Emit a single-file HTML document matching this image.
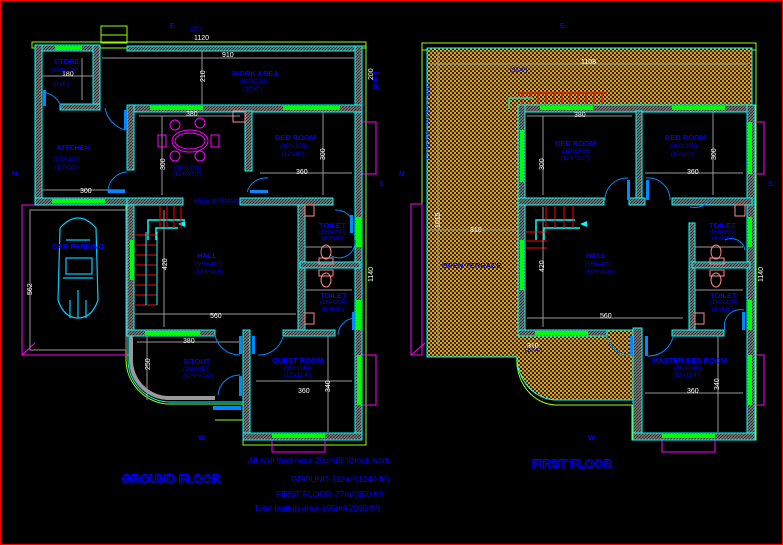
<!DOCTYPE html>
<html><head><meta charset="utf-8"><style>
html,body{margin:0;padding:0;background:#000;width:783px;height:545px;overflow:hidden}
svg{display:block}
text{font-family:"Liberation Sans",sans-serif}
.l{fill:#0000ff;font-size:7.5px;font-weight:bold}
.s{fill:#0000ff;font-size:6px}
.d{fill:#fff;font-size:7px}
.dim{stroke:#999;stroke-width:1;fill:none}
.w{fill:url(#h);stroke:#00ffff;stroke-width:1}
.g{fill:#00ff00}
</style></head><body>
<svg width="783" height="545" viewBox="0 0 783 545" xmlns="http://www.w3.org/2000/svg">
<defs>
<pattern id="h" width="3" height="3" patternUnits="userSpaceOnUse"><rect width="3" height="3" fill="#777"/><path d="M0,3 L3,0" stroke="#333" stroke-width="1"/></pattern>
<pattern id="o" width="4" height="4" patternUnits="userSpaceOnUse"><rect width="4" height="4" fill="#e8a000"/><rect x="0" y="0" width="2" height="2" fill="#222"/><rect x="2" y="2" width="2" height="2" fill="#333"/></pattern>
</defs>
<rect x="0.5" y="0.5" width="782" height="544" fill="none" stroke="#f00"/>

<!-- GROUND FLOOR -->
<rect x="32" y="42" width="334" height="6" fill="none" stroke="#9f0"/>
<rect x="101" y="26" width="26" height="17" fill="none" stroke="#9f0"/>
<line x1="101" y1="35" x2="127" y2="35" stroke="#9f0"/>
<path d="M362,46 H366 V445 H243 V420 H215" fill="none" stroke="#9f0"/>
<path d="M126,205 V360 M126,360 A45,45 0 0 0 167,404 H243" fill="none" stroke="#9f0"/>
<rect x="22" y="205" width="108" height="150" fill="none" stroke="#f0f"/>
<rect x="30" y="210" width="96" height="140" fill="none" stroke="#999"/>
<line x1="22" y1="355" x2="35" y2="343" stroke="#f0f"/>
<rect x="362" y="122" width="14" height="52" fill="none" stroke="#f0f"/>
<rect x="362" y="355" width="14" height="50" fill="none" stroke="#f0f"/>
<rect x="272" y="440" width="53" height="12" fill="none" stroke="#f0f"/>

<g id="gf">
<rect class="w" x="35" y="45" width="65" height="6"/>
<rect class="g" x="55" y="46" width="27" height="4"/>
<rect class="w" x="35" y="45" width="7" height="160"/>
<rect class="w" x="93" y="45" width="7" height="65"/>
<rect class="w" x="60" y="104" width="40" height="6"/>
<rect class="w" x="127" y="46" width="235" height="5"/>
<rect class="w" x="355" y="46" width="7" height="394"/>
<rect class="w" x="127" y="105" width="235" height="7"/>
<rect class="g" x="150" y="106" width="53" height="4"/><rect class="g" x="283" y="106" width="57" height="4"/>
<rect class="w" x="127" y="105" width="7" height="65"/>
<rect class="w" x="245" y="111" width="7" height="60"/>
<rect class="w" x="35" y="198" width="95" height="7"/>
<rect class="g" x="52" y="199" width="53" height="4"/>
<rect class="w" x="127" y="198" width="56" height="7"/>
<rect class="w" x="240" y="198" width="93" height="7"/>
<rect class="w" x="127" y="205" width="7" height="125"/>
<rect class="g" x="130" y="240" width="4" height="40"/>
<rect class="w" x="298" y="205" width="7" height="125"/>
<rect class="w" x="300" y="262" width="60" height="6"/>
<rect class="g" x="356" y="217" width="5" height="30"/><rect class="g" x="356" y="300" width="5" height="30"/>
<rect class="w" x="127" y="330" width="88" height="6"/>
<rect class="g" x="145" y="331" width="55" height="4"/>
<rect class="w" x="283" y="330" width="52" height="6"/>
<rect class="w" x="243" y="330" width="7" height="110"/>
<rect class="w" x="243" y="433" width="119" height="7"/>
<rect class="g" x="272" y="434" width="53" height="4"/>
<rect class="g" x="357" y="355" width="4" height="50"/>
<path d="M148,240 V220 H185 M156,240 V228 H178" fill="none" stroke="#0ff" stroke-width="1.5"/>
<path d="M178,224 l7,-3 v6z" fill="#0ff"/>
<g stroke="#f00" stroke-width="1"><line x1="160" y1="206" x2="160" y2="228"/><line x1="167" y1="206" x2="167" y2="228"/><line x1="174" y1="206" x2="174" y2="228"/><line x1="181" y1="206" x2="181" y2="228"/>
<line x1="134" y1="235" x2="157" y2="235"/><line x1="134" y1="245" x2="157" y2="245"/><line x1="134" y1="255" x2="157" y2="255"/><line x1="134" y1="265" x2="157" y2="265"/><line x1="134" y1="275" x2="157" y2="275"/><line x1="134" y1="285" x2="157" y2="285"/><line x1="134" y1="295" x2="157" y2="295"/><line x1="134" y1="305" x2="157" y2="305"/></g>
<line x1="146" y1="232" x2="146" y2="305" stroke="#0ff"/><line x1="157" y1="232" x2="157" y2="305" stroke="#0ff"/>
<path class="dim" d="M139,116 H240 M162,116 V195 M260,173 H352 M323,112 V195 M42,190 H125 M42,76 H93 M82,58 V100 M102,58 H355 M202,51 V105 M134,314 H296 M164,210 V327 M137,342 H240 M147,336 V400 M256,381 H352 M328,336 V432 M305,247 H352 M305,290 H352 M30,212 V347"/>
<text class="d" x="186" y="116">380</text><text class="d" x="296" y="174">360</text><text class="d" x="80" y="193">300</text>
<text class="d" x="62" y="76">180</text><text class="d" x="222" y="57">910</text><text class="d" x="194" y="40">1120</text>
<text class="d" x="210" y="318">560</text><text class="d" x="183" y="343">380</text><text class="d" x="298" y="393">360</text>
<text class="d" x="165" y="170" transform="rotate(-90 165 170)">300</text>
<text class="d" x="325" y="160" transform="rotate(-90 325 160)">300</text>
<text class="d" x="205" y="82" transform="rotate(-90 205 82)">210</text>
<text class="d" x="167" y="270" transform="rotate(-90 167 270)">420</text>
<text class="d" x="150" y="370" transform="rotate(-90 150 370)">250</text>
<text class="d" x="330" y="392" transform="rotate(-90 330 392)">340</text>
<text class="d" x="32" y="295" transform="rotate(-90 32 295)">562</text>
<text class="d" x="373" y="282" transform="rotate(-90 373 282)">1140</text>
<text class="d" x="373" y="80" transform="rotate(-90 373 80)">200</text>
<path d="M131,336 V360 A38,38 0 0 0 170,398 H215" fill="none" stroke="#999" stroke-width="4"/>
<path d="M128,336 V360 A42,42 0 0 0 170,402 H243" fill="none" stroke="#0ff"/>
<g fill="none" stroke="#08f"><path d="M42,92 A22,22 0 0 1 62,110"/><path d="M105,108 A28,28 0 0 0 125,130"/><path d="M108,192 A20,20 0 0 1 127,172"/><path d="M247,192 A20,20 0 0 1 268,178"/><path d="M335,210 A18,18 0 0 1 353,222"/><path d="M355,240 A16,16 0 0 1 330,255"/><path d="M215,335 A25,25 0 0 0 240,355"/><path d="M283,337 A25,25 0 0 1 258,355"/><path d="M218,395 A22,22 0 0 1 240,375"/><path d="M338,335 A18,18 0 0 1 355,318"/></g>
<g fill="#08f"><rect x="43" y="90" width="3" height="16"/><rect x="124" y="110" width="3" height="20"/><rect x="108" y="190" width="17" height="3"/><rect x="250" y="190" width="18" height="3"/><rect x="239" y="336" width="3" height="18"/><rect x="252" y="336" width="3" height="18"/><rect x="239" y="376" width="3" height="20"/><rect x="352" y="312" width="3" height="18"/><rect x="350" y="215" width="3" height="18"/><rect x="213" y="406" width="28" height="4"/></g>
<g fill="none" stroke="#f88"><rect x="305" y="205" width="9" height="11"/><rect x="233" y="111" width="12" height="11"/><ellipse cx="326" cy="252" rx="5" ry="7"/><rect x="319" y="258" width="14" height="6"/><ellipse cx="326" cy="280" rx="5" ry="7"/><rect x="319" y="270" width="14" height="6"/><rect x="305" y="313" width="9" height="11"/></g>
<g fill="none" stroke="#f0f"><ellipse cx="190" cy="141" rx="18" ry="11"/><ellipse cx="190" cy="141" rx="15" ry="8"/><rect x="158" y="135" width="8" height="12"/><rect x="211" y="135" width="8" height="12"/><circle cx="175" cy="125" r="5"/><circle cx="200" cy="123" r="5"/><circle cx="175" cy="156" r="5"/><circle cx="200" cy="156" r="5"/></g>
</g>
<g fill="none" stroke="#0cf" stroke-width="1.2">
<path d="M60,228 Q78,208 96,228 L98,300 Q92,318 78,318 Q64,318 58,300 Z"/>
<rect x="66" y="258" width="26" height="16"/><path d="M63,278 H93 M66,240 H90 M70,300 V318 M86,300 V318 M78,290 V318"/>
</g>
<text class="l" x="54" y="64">STORE</text><text class="s" x="51" y="72">(180x180)</text><text class="s" x="53" y="86">(6'x6')</text>
<text class="l" x="57" y="150">KITCHEN</text><text class="s" x="53" y="161">(300x300)</text><text class="s" x="55" y="169">(10'x10')</text>
<text class="l" x="232" y="76">WORK AREA</text><text class="s" x="240" y="83">(910x210)</text><text class="s" x="243" y="91">(30'x7')</text>
<text class="l" x="275" y="140">BED ROOM</text><text class="s" x="280" y="148">(360x300)</text><text class="s" x="282" y="156">(12'x10')</text>
<text class="s" x="174" y="170">(380x300)</text><text class="s" x="173" y="176">(12'6"x10')</text>
<text class="s" x="193" y="203">ARCH OPENING</text>
<text class="l" x="52" y="249">CAR PARKING</text>
<text class="l" x="197" y="258">HALL</text><text class="s" x="195" y="266">(560x420)</text><text class="s" x="195" y="274">(18'6"x14')</text>
<text class="l" x="319" y="228">TOILET</text><text class="s" x="319" y="234">(180x200)</text><text class="s" x="322" y="240">(6'x6'6")</text>
<text class="l" x="320" y="298">TOILET</text><text class="s" x="320" y="304">(180x200)</text><text class="s" x="322" y="311">(6'x6'6")</text>
<text class="l" x="183" y="364">SITOUT</text><text class="s" x="183" y="371">(380x250)</text><text class="s" x="183" y="378">(12'6"x7'4")</text>
<text class="l" x="272" y="363">GUEST ROOM</text><text class="s" x="284" y="370">(360x340)</text><text class="s" x="284" y="377">(12'x11'4")</text>
<text class="l" x="170" y="28">E</text><text class="s" x="190" y="31">(37')</text><text class="l" x="12" y="176">N</text><text class="l" x="379" y="186">S</text><text class="l" x="198" y="440">W</text>
<text class="l" x="378" y="90" transform="rotate(-90 378 90)">(6'8")</text>
<text x="122" y="483" style="fill:none;stroke:#00f;stroke-width:0.9;font-size:12px;font-weight:bold">GROUND FLOOR</text>
<text x="248" y="463" style="fill:#00f;font-size:8.5px">All wall thickness 20cm(8")Block work.</text>
<text x="291" y="482" style="fill:#00f;font-size:8.5px">GROUND-112m²(1240 ft²)</text>
<text x="276" y="497" style="fill:#00f;font-size:8.5px">FIRST FLOOR-77m²(850 ft²)</text>
<text x="254" y="511" style="fill:#00f;font-size:8.5px">Total builtup area-195m²(2090 ft²)</text>

<!-- FIRST FLOOR -->
<rect x="422" y="43" width="334" height="7" fill="none" stroke="#9f0"/>
<path d="M422,43 V207 M756,43 V440 H632 V405" fill="none" stroke="#9f0"/>
<path d="M422,207 V352 M517,355 A40,45 0 0 0 557,405 H632" fill="none" stroke="#9f0"/>
<path d="M427,48 H752 V108 H518 V330 H635 V400 H557 A40,43 0 0 1 517,357 H427 Z" fill="url(#o)" stroke="#0ff"/>
<rect x="411" y="204" width="11" height="151" fill="none" stroke="#f0f"/>
<line x1="411" y1="355" x2="425" y2="343" stroke="#f0f"/>
<rect x="752" y="122" width="12" height="52" fill="none" stroke="#f0f"/>
<rect x="752" y="355" width="12" height="50" fill="none" stroke="#f0f"/>
<rect x="662" y="440" width="53" height="12" fill="none" stroke="#f0f"/>
<path class="dim" d="M438,52 V345 M430,64 H748 M428,230 H516 M753,108 V432" />
<text class="d" x="581" y="64">1108</text><text class="d" x="470" y="232">310</text><text class="d" x="527" y="348">310</text>
<text class="d" x="440" y="228" transform="rotate(-90 440 228)">1015</text>
<text class="d" x="763" y="282" transform="rotate(-90 763 282)">1140</text>
<path d="M517,93 H607 M522,93 V106 M530,93 V106 M538,93 V106 M546,93 V106 M554,93 V106 M562,93 V106 M570,93 V106 M578,93 V106 M586,93 V106 M594,93 V106 M602,93 V106" stroke="#f00"/>
<path d="M509,109 V98 H533" stroke="#0ff" fill="none"/>
<g>
<rect class="w" x="518" y="105" width="237" height="7"/>
<rect class="g" x="540" y="106" width="53" height="4"/><rect class="g" x="672" y="106" width="53" height="4"/>
<rect class="w" x="518" y="105" width="7" height="225"/>
<rect class="g" x="520" y="130" width="4" height="52"/><rect class="g" x="520" y="240" width="4" height="50"/>
<rect class="w" x="747" y="105" width="8" height="335"/>
<rect class="g" x="748" y="122" width="4" height="52"/><rect class="g" x="748" y="217" width="4" height="30"/><rect class="g" x="748" y="300" width="4" height="30"/><rect class="g" x="748" y="355" width="4" height="50"/>
<rect class="w" x="636" y="111" width="6" height="90"/>
<rect class="w" x="518" y="198" width="86" height="7"/><rect class="w" x="629" y="198" width="16" height="7"/><rect class="w" x="672" y="198" width="80" height="7"/>
<rect class="w" x="689" y="223" width="6" height="107"/>
<rect class="w" x="692" y="262" width="58" height="6"/>
<rect class="w" x="518" y="330" width="89" height="6"/><rect class="g" x="535" y="331" width="53" height="4"/>
<rect class="w" x="672" y="330" width="52" height="6"/>
<rect class="w" x="633" y="328" width="9" height="112"/>
<rect class="w" x="633" y="433" width="122" height="7"/><rect class="g" x="662" y="434" width="53" height="4"/>
<path d="M536,240 V220 H575 M544,240 V228 H580" fill="none" stroke="#0ff" stroke-width="1.5"/><path d="M580,224 l7,-3 v6z" fill="#0ff"/>
<g stroke="#f00"><line x1="546" y1="205" x2="546" y2="228"/><line x1="555" y1="205" x2="555" y2="228"/><line x1="564" y1="205" x2="564" y2="228"/><line x1="573" y1="205" x2="573" y2="228"/><line x1="525" y1="232" x2="547" y2="232"/><line x1="525" y1="241" x2="547" y2="241"/><line x1="525" y1="248" x2="547" y2="248"/></g>
<path class="dim" d="M527,116 H632 M543,116 V195 M645,173 H743 M713,112 V195 M527,318 H683 M543,207 V327 M645,393 H743 M718,336 V432 M695,247 H743 M695,290 H743"/>
<text class="d" x="574" y="117">380</text><text class="d" x="687" y="174">360</text><text class="d" x="600" y="318">560</text><text class="d" x="687" y="393">360</text>
<text class="d" x="544" y="170" transform="rotate(-90 544 170)">300</text><text class="d" x="716" y="160" transform="rotate(-90 716 160)">300</text>
<text class="d" x="544" y="272" transform="rotate(-90 544 272)">420</text><text class="d" x="719" y="390" transform="rotate(-90 719 390)">340</text>
<g fill="none" stroke="#08f"><path d="M605,200 A22,22 0 0 1 628,178"/><path d="M646,178 A22,22 0 0 1 670,200"/><path d="M690,207 A20,20 0 0 0 710,200"/><path d="M745,250 A14,14 0 0 0 725,240"/><path d="M744,310 A16,16 0 0 0 725,330"/><path d="M607,335 A25,25 0 0 0 630,356"/><path d="M673,337 A25,25 0 0 1 648,356"/></g>
<g fill="#08f"><rect x="627" y="180" width="3" height="20"/><rect x="646" y="180" width="3" height="20"/><rect x="630" y="336" width="3" height="20"/><rect x="645" y="336" width="3" height="20"/><rect x="742" y="312" width="3" height="18"/></g>
<g fill="none" stroke="#f88"><rect x="735" y="205" width="10" height="11"/><ellipse cx="716" cy="252" rx="5" ry="7"/><rect x="710" y="258" width="14" height="6"/><ellipse cx="716" cy="280" rx="5" ry="7"/><rect x="710" y="270" width="14" height="6"/><rect x="695" y="313" width="9" height="11"/></g>
</g>
<text class="l" x="555" y="146">BED ROOM</text><text class="s" x="562" y="153">(380x300)</text><text class="s" x="561" y="160">(12'6"x10')</text>
<text class="l" x="665" y="140">BED ROOM</text><text class="s" x="670" y="148">(360x300)</text><text class="s" x="671" y="156">(12'x10')</text>
<text class="l" x="586" y="258">HALL</text><text class="s" x="585" y="266">(560x420)</text><text class="s" x="585" y="274">(18'6"x14')</text>
<text class="l" x="709" y="228">TOILET</text><text class="s" x="709" y="234">(180x200)</text><text class="s" x="712" y="240">(6'x6'6")</text>
<text class="l" x="710" y="298">TOILET</text><text class="s" x="710" y="304">(180x200)</text><text class="s" x="712" y="311">(6'x6'6")</text>
<text class="l" x="652" y="363">MASTER BED ROOM</text><text class="s" x="674" y="370">(360x340)</text><text class="s" x="673" y="377">(12'x11'4")</text>
<text class="l" x="442" y="268">OPEN TERRACE</text>
<text class="s" x="510" y="72">(36'4")</text><text class="s" x="525" y="352">(10'4")</text>
<text class="l" x="560" y="28">E</text><text class="l" x="399" y="176">N</text><text class="l" x="768" y="186">S</text><text class="l" x="588" y="440">W</text>
<text class="s" x="430" y="160" transform="rotate(-90 430 160)">1.2 HEIGHT PARAPET WALL</text>
<text x="532" y="468" style="fill:none;stroke:#00f;stroke-width:0.9;font-size:12px;font-weight:bold">FIRST FLOOR</text>
</svg>
</body></html>
